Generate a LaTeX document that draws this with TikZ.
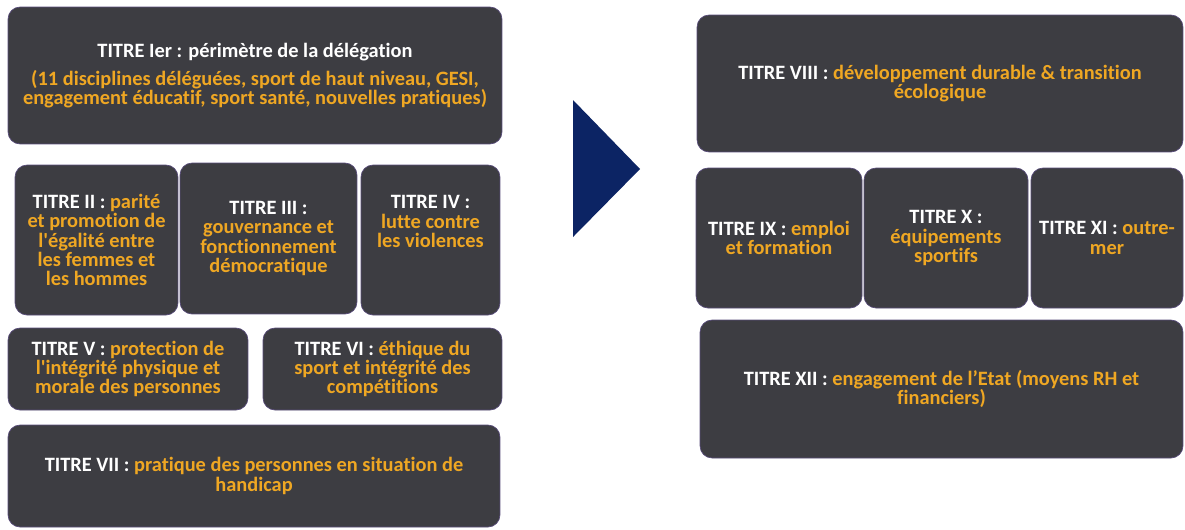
\documentclass[tikz,border=0pt]{standalone}
\usepackage{fontspec}
\setmainfont{Carlito}[Ligatures={TeX,CommonOff,ContextualOff}]
\usepackage{tikz}
\usetikzlibrary{positioning}
\definecolor{fond}{RGB}{61,61,66}
\definecolor{bord}{RGB}{88,76,122}
\definecolor{orange}{RGB}{239,167,35}
\definecolor{marine}{RGB}{12,36,100}
\newcommand{\sujet}[1]{\textcolor{orange}{#1}}
\tikzset{
  titre/.style={draw=bord,line width=0.4pt,fill=fond,rounded corners=0.24cm,
    inner sep=0pt,align=center,text=white,
    font=\fontsize{11.6}{11}\selectfont\bfseries},
  fleche/.style={fill=marine},
}

\begin{document}
\begin{tikzpicture}[x=0.02cm,y=-0.02cm]
  \useasboundingbox (0,0) rectangle (1185,529);
  % colonne gauche
  \node[titre,minimum width=9.88cm,minimum height=2.74cm] (t1) at (255,75.5)
    {TITRE Ier : périmètre de la délégation\\[5pt]
     \sujet{(11 disciplines déléguées, sport de haut niveau, GESI,}\\
     \sujet{engagement éducatif, sport santé, nouvelles pratiques)}};
  \node[titre,minimum width=3.26cm,minimum height=3cm] (t2) at (96.5,240)
    {TITRE II : \sujet{parité}\\ \sujet{et promotion de}\\
     \sujet{l\textquotesingle égalité entre}\\ \sujet{les femmes et}\\ \sujet{les hommes}};
  \node[titre,minimum width=3.54cm,minimum height=3.02cm] (t3) at (268.5,238.5)
    {TITRE III :\\ \sujet{gouvernance et}\\ \sujet{fonctionnement}\\ \sujet{démocratique}};
  \node[titre,minimum width=2.78cm,minimum height=3cm] (t4) at (430.5,240)
    {TITRE IV :\\ \sujet{lutte contre}\\ \sujet{les violences}\\[10pt]};
  \node[titre,minimum width=4.8cm,minimum height=1.64cm] (t5) at (128,369)
    {TITRE V : \sujet{protection de}\\ \sujet{l\textquotesingle intégrité physique et}\\
     \sujet{morale des personnes}};
  \node[titre,minimum width=4.78cm,minimum height=1.64cm] (t6) at (382.5,369)
    {TITRE VI : \sujet{éthique du}\\ \sujet{sport et intégrité des}\\ \sujet{compétitions}};
  \node[titre,minimum width=9.84cm,minimum height=2.04cm] (t7) at (254,476)
    {TITRE VII : \sujet{pratique des personnes en situation de}\\ \sujet{handicap}};
  % fleche
  \fill[fleche] (573,100) -- (640,169) -- (573,237) -- cycle;
  % colonne droite
  \node[titre,minimum width=9.72cm,minimum height=2.74cm] (t8) at (940,83.5)
    {TITRE VIII : \sujet{développement durable \& transition}\\ \sujet{écologique}};
  \node[titre,minimum width=3.32cm,minimum height=2.8cm] (t9) at (779,238)
    {TITRE IX : \sujet{emploi}\\ \sujet{et formation}};
  \node[titre,minimum width=3.28cm,minimum height=2.8cm] (t10) at (946,238)
    {TITRE X :\\ \sujet{équipements}\\ \sujet{sportifs}};
  \node[titre,minimum width=3.04cm,minimum height=2.8cm] (t11) at (1107,238)
    {TITRE XI : \sujet{outre-}\\ \sujet{mer}};
  \node[titre,minimum width=9.66cm,minimum height=2.76cm] (t12) at (941.5,389)
    {TITRE XII : \sujet{engagement de l’Etat (moyens RH et}\\ \sujet{financiers)}};
\end{tikzpicture}
\end{document}
